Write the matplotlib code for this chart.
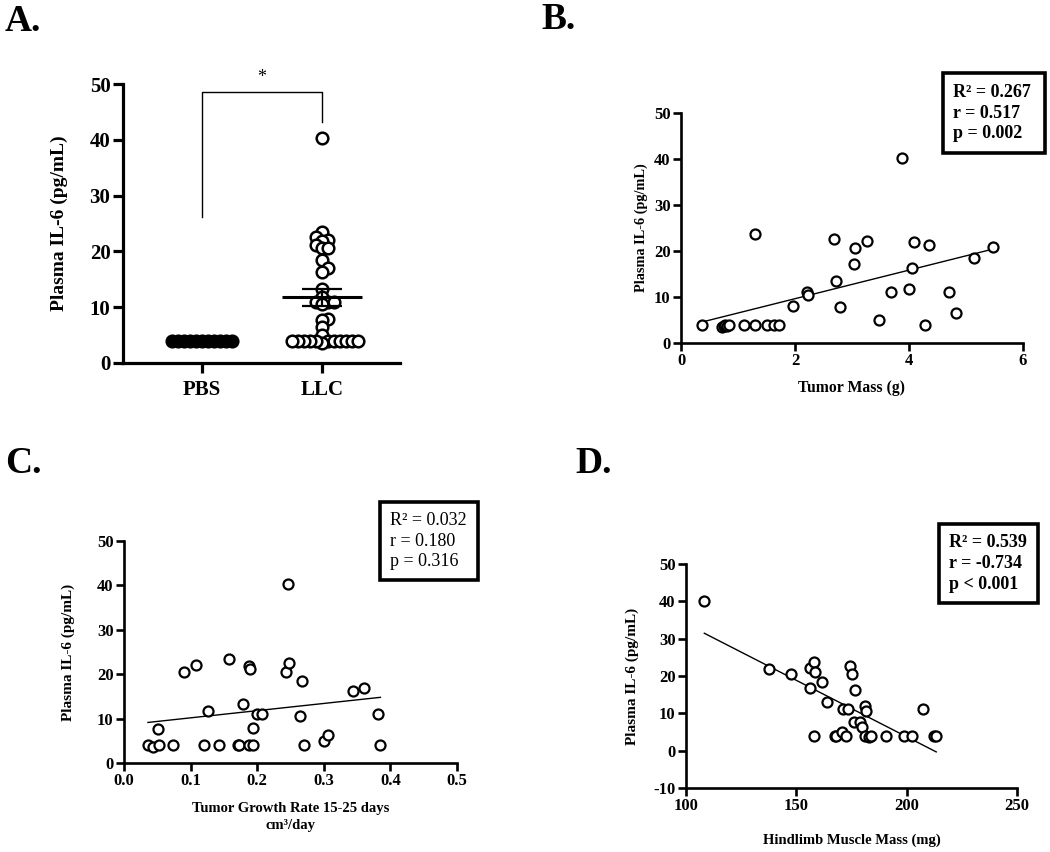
import numpy as np
import matplotlib
matplotlib.use("Agg")

import matplotlib.pyplot as plt
from matplotlib.patches import Rectangle
from matplotlib.ticker import FormatStrFormatter

W, H = 1050, 852

# panel A: plasma IL-6 per group
groups = ["PBS", "LLC"]
pbs_il6 = [3.9] * 11
llc_il6 = [40.3, 23.5, 22.6, 22.0, 21.9, 21.1, 20.6, 20.6, 18.4, 17.0, 16.3,
           13.2, 11.8, 11.0, 11.0, 11.0, 10.6, 7.9, 7.7, 6.4, 5.0,
           4.0, 3.6, 4.0, 4.0, 4.0, 4.0, 4.0, 4.0, 4.0, 4.0, 4.0, 4.0]

# panel B: tumor mass (g) vs IL-6
mass_b = [0.37, 0.72, 0.75, 0.78, 0.80, 0.84, 1.10, 1.30, 1.50, 1.64, 1.72, 4.28,
          1.29, 1.97, 2.21, 2.22, 2.69, 2.72, 2.79, 3.03, 3.06, 3.27, 3.47, 3.69,
          3.88, 4.00, 4.06, 4.09, 4.35, 4.70, 4.83, 5.14, 5.47]
il6_b = [4.0, 3.5, 3.7, 3.9, 3.6, 4.0, 4.0, 4.0, 4.0, 4.0, 4.0, 4.0,
         23.7, 8.0, 11.0, 10.4, 22.7, 13.4, 7.8, 17.1, 20.7, 22.2, 5.1, 11.1,
         40.3, 11.8, 16.4, 21.9, 21.3, 11.1, 6.5, 18.4, 20.8]

# panel C: tumor growth rate (cm3/day) vs IL-6
rate_c = [0.036, 0.043, 0.053, 0.051, 0.074, 0.090, 0.108, 0.120, 0.126, 0.143, 0.157,
          0.171, 0.173, 0.179, 0.187, 0.189, 0.188, 0.193, 0.194, 0.199, 0.207, 0.243,
          0.246, 0.248, 0.267, 0.265, 0.271, 0.300, 0.306, 0.344, 0.361, 0.382, 0.385]
il6_c = [4.0, 3.6, 4.0, 7.7, 4.0, 20.6, 22.0, 4.0, 11.8, 4.0, 23.5,
         4.0, 4.0, 13.2, 21.9, 21.1, 4.0, 4.0, 7.9, 11.0, 11.0, 20.6,
         40.3, 22.6, 18.4, 10.6, 4.0, 5.0, 6.4, 16.3, 17.0, 11.0, 4.0]

# panel D: hindlimb muscle mass (mg) vs IL-6
muscle_d = [108.3, 137.5, 147.6, 156.0, 156.3, 157.9, 158.6, 157.9, 161.6, 163.9, 167.4,
            168.1, 170.7, 171.0, 172.7, 173.4, 174.2, 175.3, 176.0, 176.5, 179.0, 179.8,
            181.3, 181.6, 181.3, 182.8, 183.8, 190.6, 198.6, 202.4, 207.3, 212.2, 213.4]
il6_d = [40.2, 21.8, 20.5, 16.9, 22.1, 23.7, 21.0, 4.0, 18.3, 13.1, 4.0,
         4.0, 5.1, 11.1, 4.0, 11.1, 22.7, 20.5, 7.7, 16.2, 7.7, 6.4,
         11.9, 10.6, 4.0, 3.7, 4.0, 4.0, 4.0, 4.0, 11.1, 4.0, 4.0]

stats_b = "R² = 0.267\nr = 0.517\np = 0.002"
stats_c = "R² = 0.032\nr = 0.180\np = 0.316"
stats_d = "R² = 0.539\nr = -0.734\np < 0.001"

plt.rcParams["font.family"] = ["Liberation Serif", "DejaVu Serif"]
plt.rcParams["font.weight"] = "bold"
plt.rcParams["axes.unicode_minus"] = False


def px_rect(l, t, r, b):
    return [l / W, 1 - b / H, (r - l) / W, (b - t) / H]


def style_axes(ax, lw, tick_len, size):
    for s in ["top", "right"]:
        ax.spines[s].set_visible(False)
    for s in ["left", "bottom"]:
        ax.spines[s].set_linewidth(lw)
    ax.tick_params(width=lw, length=tick_len, labelsize=size, pad=1.5)


def swarm_offsets(ax, values, min_dist):
    # spread points sideways (in pixels) so they do not sit on top of each other
    p0 = ax.transData.transform([0, 0])
    p1 = ax.transData.transform([1, 1])
    sx, sy = p1 - p0
    ys = np.asarray(values) * sy
    placed = []
    offs = np.zeros(len(values))
    for i in np.argsort(values, kind="stable"):
        k = 0
        while True:
            cands = [0.0] if k == 0 else [k * min_dist, -k * min_dist]
            done = False
            for c in cands:
                if all(np.hypot(c - px, ys[i] - py) >= min_dist - 1e-6 for px, py in placed):
                    placed.append((c, ys[i]))
                    offs[i] = c / sx
                    done = True
                    break
            if done:
                break
            k += 1
    return offs


def scatter_fit(ax, x, y):
    x = np.asarray(x)
    y = np.asarray(y)
    ax.scatter(x, y, s=52, facecolors="white", edgecolors="black", linewidths=1.6,
               clip_on=False, zorder=3)
    slope, icpt = np.polyfit(x, y, 1)
    xs = np.array([x.min(), x.max()])
    ax.plot(xs, slope * xs + icpt, color="black", lw=1.0, zorder=2)


def stats_box(l, t, r, b, text, weight):
    fig.patches.append(Rectangle((l / W, 1 - b / H), (r - l) / W, (b - t) / H,
                                 transform=fig.transFigure, fill=False,
                                 edgecolor="black", lw=2.6))
    fig.text((l + 10) / W, 1 - (t + b) / 2 / H, text, fontsize=13, weight=weight,
             ha="left", va="center", linespacing=1.3)


fig = plt.figure(figsize=(W / 100, H / 100), dpi=100)

# ---------- A ----------
axA = fig.add_axes(px_rect(123, 84, 400, 363))
axA.set_xlim(-0.658, 1.65)
axA.set_ylim(0, 50)
style_axes(axA, 2.3, 7.5, 15)
axA.set_yticks(np.arange(0, 51, 10))
axA.set_xticks([0, 1])
axA.set_xticklabels(groups)
axA.tick_params(axis="x", pad=5)

off_pbs = swarm_offsets(axA, pbs_il6, 6.0)
axA.scatter(0 + off_pbs, pbs_il6, s=70, color="black", linewidths=1.8, clip_on=False, zorder=3)
off_llc = swarm_offsets(axA, llc_il6, 6.0)
axA.scatter(1 + off_llc, llc_il6, s=70, facecolors="white", edgecolors="black",
            linewidths=1.8, clip_on=False, zorder=3)

llc = np.asarray(llc_il6)
mean = llc.mean()
sem = llc.std(ddof=1) / np.sqrt(len(llc))
axA.hlines(mean, 1 - 0.33, 1 + 0.33, color="black", lw=2.2, zorder=4)
axA.hlines([mean - sem, mean + sem], 1 - 0.167, 1 + 0.167, color="black", lw=1.6, zorder=4)
axA.vlines(1, mean - sem, mean + sem, color="black", lw=1.6, zorder=4)

# significance bracket
axA.plot([0, 0, 1, 1], [26.2, 48.6, 48.6, 43.2], color="black", lw=1.0, clip_on=False)
axA.text(0.5, 49.6, "*", ha="center", va="bottom", fontsize=13, weight="normal")

fig.text(59 / W, 1 - 223 / H, "Plasma IL-6 (pg/mL)", rotation=90, fontsize=14,
         ha="center", va="center")

# ---------- B ----------
axB = fig.add_axes(px_rect(681, 113, 1023, 343))
axB.set_xlim(0, 6)
axB.set_ylim(0, 50)
style_axes(axB, 1.9, 6, 12)
axB.set_xticks([0, 2, 4, 6])
axB.set_yticks(np.arange(0, 51, 10))
scatter_fit(axB, mass_b, il6_b)
fig.text(641 / W, 1 - 228 / H, "Plasma IL-6 (pg/mL)", rotation=90, fontsize=10.3,
         ha="center", va="center")
fig.text(852 / W, 1 - 388 / H, "Tumor Mass (g)", fontsize=11.3, ha="center", va="center")
stats_box(943, 73, 1045, 153, stats_b, "bold")

# ---------- C ----------
axC = fig.add_axes(px_rect(124, 541, 457, 763))
axC.set_xlim(0, 0.5)
axC.set_ylim(0, 50)
style_axes(axC, 1.9, 6, 12)
axC.set_xticks(np.arange(0, 0.51, 0.1))
axC.xaxis.set_major_formatter(FormatStrFormatter("%.1f"))
axC.set_yticks(np.arange(0, 51, 10))
scatter_fit(axC, rate_c, il6_c)
fig.text(68 / W, 1 - 652 / H, "Plasma IL-6 (pg/mL)", rotation=90, fontsize=11,
         ha="center", va="center")
fig.text(291 / W, 1 - 817 / H, "Tumor Growth Rate 15-25 days\ncm³/day", fontsize=10.5,
         ha="center", va="center", linespacing=1.35)
stats_box(380, 502, 478, 580, stats_c, "normal")

# ---------- D ----------
axD = fig.add_axes(px_rect(686, 564, 1017, 788))
axD.set_xlim(100, 250)
axD.set_ylim(-10, 50)
style_axes(axD, 1.9, 6, 12)
axD.set_xticks([100, 150, 200, 250])
axD.set_yticks(np.arange(-10, 51, 10))
scatter_fit(axD, muscle_d, il6_d)
fig.text(632 / W, 1 - 676 / H, "Plasma IL-6 (pg/mL)", rotation=90, fontsize=11,
         ha="center", va="center")
fig.text(852 / W, 1 - 840 / H, "Hindlimb Muscle Mass (mg)", fontsize=10.5,
         ha="center", va="center")
stats_box(939, 524, 1038, 603, stats_d, "bold")

# panel letters
for lbl, x, y in [("A.", 5, 4), ("B.", 541, 2), ("C.", 5, 446), ("D.", 575, 446)]:
    fig.text(x / W, 1 - y / H, lbl, fontsize=27, ha="left", va="top")

fig.savefig("out.png", dpi=100)
